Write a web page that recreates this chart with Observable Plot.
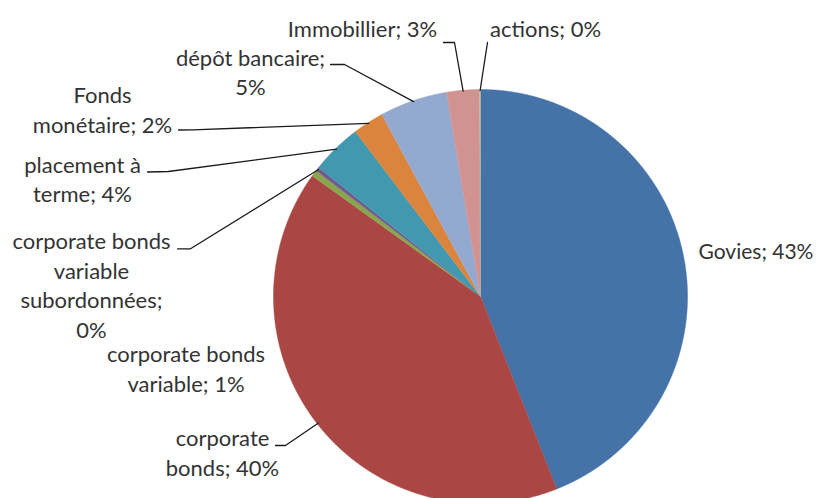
<!DOCTYPE html>
<html>
<head>
<meta charset="utf-8">
<script src="https://cdn.jsdelivr.net/npm/d3@7"></script>
<script src="https://cdn.jsdelivr.net/npm/@observablehq/plot@0.6"></script>
<style>
  html, body { margin: 0; padding: 0; background: #fff; }
  #chart svg { display: block; }
</style>
</head>
<body>
<div id="chart"></div>
<script>
// ---- data ----
const categories = [
  "Govies",
  "corporate bonds",
  "corporate bonds variable",
  "corporate bonds variable subordonnées",
  "placement à terme",
  "Fonds monétaire",
  "dépôt bancaire",
  "Immobillier",
  "actions"
];
const shares = [44.05, 40.94, 0.5, 0.3, 3.97, 2.43, 5.28, 2.57, 0.06];
const pctLabels = ["43%", "40%", "1%", "0%", "4%", "2%", "5%", "3%", "0%"];
const colors = ["#4572A7", "#AA4643", "#89A54E", "#71588F", "#4198AF", "#DB843D", "#93A9CF", "#D19392", "#B9CD96"];

// ---- layout (pixel positions) ----
const W = 818, H = 498;
const CX = 480, CY = 296, R = 207;
const labelLayout = [
  {x: 698, y: 249.8, anchor: "start",  breaks: null, size: 21},        // Govies
  {x: 222, y: 451,   anchor: "middle", breaks: [1, 2], size: 22},      // corporate bonds
  {x: 185.5, y: 367, anchor: "middle", breaks: [2, 2], size: 22},      // corporate bonds variable
  {x: 91,  y: 283.5, anchor: "middle", breaks: [2, 1, 1, 1], size: 22},// subordonnées
  {x: 82,  y: 177.7, anchor: "middle", breaks: [2, 2], size: 22},      // placement à terme
  {x: 102, y: 108,   anchor: "middle", breaks: [1, 2], size: 22},      // Fonds monétaire
  {x: 250, y: 70.3,  anchor: "middle", breaks: [2, 1], size: 22},      // dépôt bancaire
  {x: 362, y: 27.3,  anchor: "middle", breaks: null, size: 22},        // Immobillier
  {x: 545, y: 27.3,  anchor: "middle", breaks: null, size: 22}         // actions
];
const leaderLayout = [
  null,
  [[275, 445], [285, 445]],
  null,
  [[177, 248.3], [190, 248.3]],
  [[147, 171.5], [168, 171]],
  [[178, 129.5], [192, 129.3]],
  [[330, 64], [344, 64]],
  [[443, 42], [454, 42]],
  [[487, 42]]
];

// ---- build ----
const data = categories.map((name, i) => ({name, share: shares[i], pct: pctLabels[i], color: colors[i]}));
const arcs = d3.pie().sort(null).value(d => d.share)(data);

const slicePts = [];
for (const a of arcs) {
  const name = a.data.name;
  slicePts.push({name, x: CX, y: CY});
  const n = Math.max(2, Math.ceil((a.endAngle - a.startAngle) / (Math.PI / 720)));
  for (let k = 0; k <= n; k++) {
    const t = a.startAngle + (a.endAngle - a.startAngle) * k / n;
    slicePts.push({name, x: CX + R * Math.sin(t), y: CY - R * Math.cos(t)});
  }
}

const leaderPts = [];
arcs.forEach((a, i) => {
  const L = leaderLayout[i];
  if (!L) return;
  const name = a.data.name;
  L.forEach(p => leaderPts.push({name, x: p[0], y: p[1]}));
  const m = (a.startAngle + a.endAngle) / 2;
  leaderPts.push({name, x: CX + (R - 1) * Math.sin(m), y: CY - (R - 1) * Math.cos(m)});
});

function wrap(str, breaks) {
  if (!breaks) return str;
  const words = str.split(" ");
  const lines = [];
  let k = 0;
  for (const b of breaks) { lines.push(words.slice(k, k + b).join(" ")); k += b; }
  if (k < words.length) lines.push(words.slice(k).join(" "));
  return lines.join("\n");
}
const labels = data.map((d, i) => ({
  text: wrap(`${d.name}; ${d.pct}`, labelLayout[i].breaks),
  x: labelLayout[i].x, y: labelLayout[i].y, anchor: labelLayout[i].anchor, size: labelLayout[i].size
}));

const textOpts = {
  x: "x", y: "y", text: "text",
  lineHeight: 1.34, fill: "#333",
  fontFamily: "Lato"
};

const chart = Plot.plot({
  width: W, height: H,
  margin: 0,
  style: {background: "#fff", fontFamily: "Lato"},
  x: {domain: [0, W], range: [0, W], axis: null},
  y: {domain: [0, H], range: [0, H], axis: null},
  color: {domain: categories, range: colors},
  marks: [
    Plot.line(slicePts, {x: "x", y: "y", z: "name", fill: "name", stroke: "name", strokeWidth: 0.5, curve: "linear"}),
    Plot.line(leaderPts, {x: "x", y: "y", z: "name", stroke: "#1a1a1a", strokeWidth: 1.3, curve: "linear"}),
    Plot.text(labels.filter(d => d.anchor === "start"), {...textOpts, fontSize: 21, textAnchor: "start"}),
    Plot.text(labels.filter(d => d.anchor === "middle"), {...textOpts, fontSize: 22, textAnchor: "middle"})
  ]
});
document.getElementById("chart").appendChild(chart);
</script>
</body>
</html>
